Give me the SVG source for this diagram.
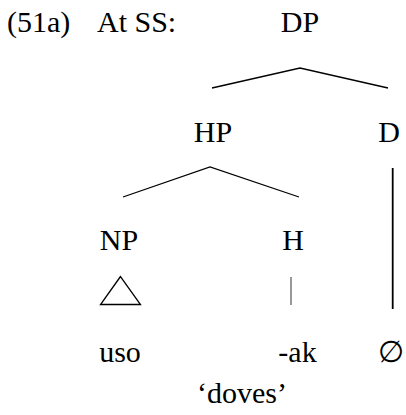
<svg xmlns="http://www.w3.org/2000/svg" width="406" height="415" viewBox="0 0 406 415">
<style>
.c{text-anchor:middle}
.ln{stroke:#000;stroke-width:1.3;fill:none}
</style>
<rect width="406" height="415" fill="#fff"/>
<g font-family="Liberation Serif" font-size="30" fill="#000">
<g id="label"><text x="7" y="32">(51a)</text><text x="97" y="32">At SS:</text></g>
<g id="DP"><text class="c" x="300" y="32">DP</text></g>
<g id="HP"><text class="c" x="213" y="142">HP</text></g>
<g id="D"><text class="c" x="389" y="142">D</text></g>
<g id="NP"><text class="c" x="119" y="250">NP</text></g>
<g id="H"><text class="c" x="293" y="250">H</text></g>
<g id="uso"><text class="c" x="120" y="362">uso</text></g>
<g id="ak"><text class="c" x="297.5" y="362">-ak</text></g>
<g id="null"><text class="c" x="391" y="362">∅</text></g>
<g id="gloss"><text class="c" x="242" y="403">‘doves’</text></g>
</g>
<g id="connectors">
<polyline class="ln" points="212,88 300,68 388,88"/>
<polyline class="ln" points="123,197 210,167 299,197"/>
<line x1="392.7" y1="168" x2="392.7" y2="309" stroke="#000" stroke-width="1.8"/>
<line x1="291" y1="277" x2="291" y2="305" stroke="#333" stroke-width="1"/>
<polygon class="ln" points="120.5,276.5 100.5,304.5 140.5,304.5" stroke-width="1.2"/>
</g>
</svg>
